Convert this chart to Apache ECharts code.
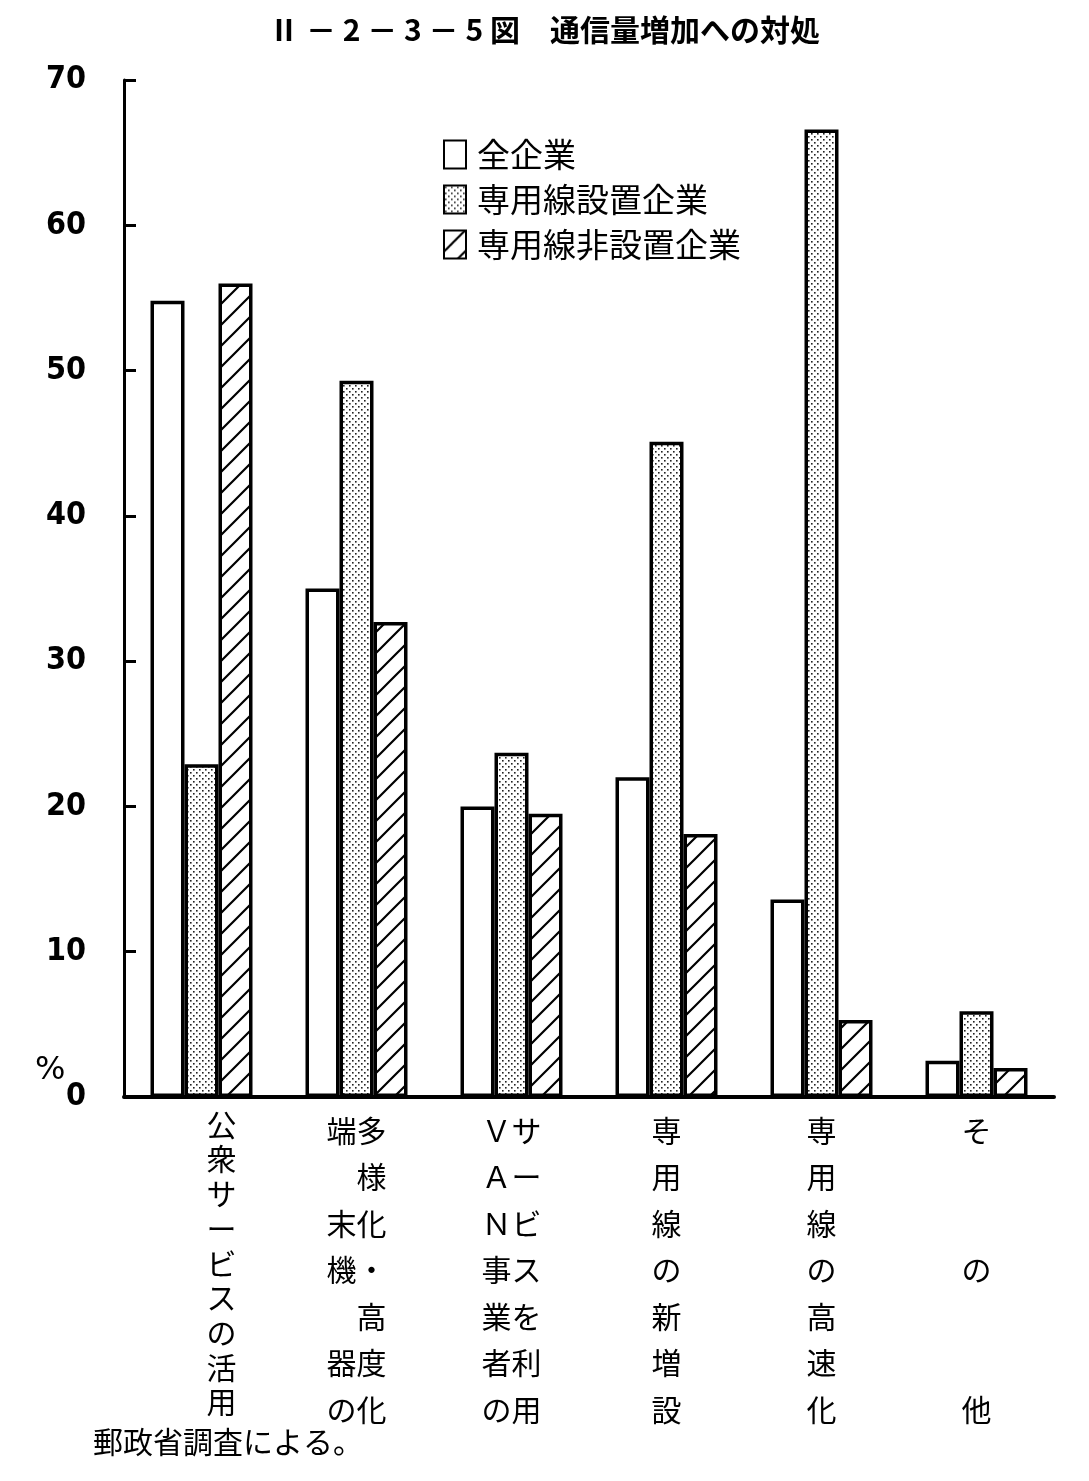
<!DOCTYPE html>
<html>
<head>
    <meta charset="utf-8">
    <title>通信量増加への対処</title>
    <script src="https://cdn.jsdelivr.net/npm/echarts@6/dist/echarts.min.js"></script>
    <style>
        html, body { margin: 0; padding: 0; background: #fff; }
        #chart1 { width: 1089px; height: 1481px; }
    </style>
</head>
<body>
<div id="chart1"></div>
<script type="text/javascript">
    // データ（図から読み取り、%）
    var categories = ['公衆サービスの活用', '端末機器の多様化・高度化', 'VAN事業者のサービスを利用', '専用線の新増設', '専用線の高速化', 'その他'];
    var seriesNames = ['全企業', '専用線設置企業', '専用線非設置企業'];
    var allCompanies = [54.8, 35.0, 20.0, 22.0, 13.6, 2.5];
    var withLine = [22.9, 49.3, 23.7, 45.1, 66.6, 5.9];
    var withoutLine = [56.0, 32.7, 19.5, 18.1, 5.3, 2.0];
    var yTicks = [0, 10, 20, 30, 40, 50, 60, 70];

    // 縦書きラベルの行（左列＋右列）
    var labelRows = [
        ['公', '衆', 'サ', 'ー', 'ビ', 'ス', 'の', '活', '用'],
        ['端多', '　様', '末化', '機・', '　高', '器度', 'の化'],
        ['Ｖサ', 'Ａー', 'Ｎビ', '事ス', '業を', '者利', 'の用'],
        ['専', '用', '線', 'の', '新', '増', '設'],
        ['専', '用', '線', 'の', '高', '速', '化'],
        ['そ', '　', '　', 'の', '　', '　', '他']
    ];

    var FONT = '"Noto Sans CJK JP", sans-serif';

    // 網点パターン
    function dotPattern() {
        var c = document.createElement('canvas');
        c.width = 6; c.height = 6;
        var ctx = c.getContext('2d');
        ctx.fillStyle = '#fff';
        ctx.fillRect(0, 0, 6, 6);
        ctx.fillStyle = '#222';
        ctx.fillRect(1, 1, 1.6, 1.6);
        ctx.fillRect(4, 4, 1.6, 1.6);
        return c;
    }

    // 斜線パターン
    function hatchPattern() {
        var s = 21;
        var c = document.createElement('canvas');
        c.width = s; c.height = s;
        var ctx = c.getContext('2d');
        ctx.fillStyle = '#fff';
        ctx.fillRect(0, 0, s, s);
        ctx.strokeStyle = '#000';
        ctx.lineWidth = 2.2;
        ctx.beginPath();
        ctx.moveTo(-2, s + 2); ctx.lineTo(s + 2, -2);
        ctx.moveTo(-2, 2); ctx.lineTo(2, -2);
        ctx.moveTo(s - 2, s + 2); ctx.lineTo(s + 2, s - 2);
        ctx.stroke();
        return c;
    }

    var myChart1 = echarts.init(document.getElementById('chart1'));

    var baseItem = {borderColor: '#000', borderWidth: 3.5};

    myChart1.setOption({
        backgroundColor: '#fff',
        animation: false,
        title: [
            {
                text: 'Ⅱ － 2 － 3 － 5 図　通信量増加への対処',
                left: 'center',
                top: 10,
                textStyle: {fontFamily: FONT, fontSize: 30, fontWeight: 'bold', color: '#000'}
            },
            {
                text: '%',
                left: 30,
                top: 1050,
                textStyle: {fontFamily: 'DejaVu Sans', fontSize: 32, fontWeight: 'normal', color: '#000'}
            },
            {
                text: '郵政省調査による。',
                left: 88,
                top: 1422,
                textStyle: {fontFamily: FONT, fontSize: 30, fontWeight: 'normal', color: '#000'}
            }
        ],
        legend: {
            orient: 'vertical',
            left: 438,
            top: 133,
            icon: 'rect',
            itemWidth: 22,
            itemHeight: 28,
            itemGap: 12,
            data: seriesNames,
            textStyle: {fontFamily: FONT, fontSize: 33, color: '#000', padding: [0, 0, 0, 6]}
        },
        grid: {
            left: 124,
            right: 35,
            top: 80,
            bottom: 384
        },
        xAxis: {
            type: 'category',
            data: categories,
            axisLine: {lineStyle: {color: '#000', width: 4}},
            axisTick: {show: false},
            axisLabel: {
                interval: 0,
                margin: 10,
                color: '#000',
                formatter: function (value, index) {
                    var st = index === 0 ? 'a' : 'b';
                    return labelRows[index].map(function (r) {
                        return '{' + st + '|' + r + '}';
                    }).join('\n');
                },
                rich: {
                    a: {fontFamily: FONT, fontSize: 30, lineHeight: 34.7, color: '#000', padding: [0, 0, 0, 40]},
                    b: {fontFamily: FONT, fontSize: 30, lineHeight: 46.5, color: '#000'}
                }
            }
        },
        yAxis: {
            type: 'value',
            min: 0,
            max: 70,
            interval: 10,
            splitLine: {show: false},
            axisLine: {show: true, lineStyle: {color: '#000', width: 3}},
            axisTick: {show: true, inside: true, length: 12, lineStyle: {color: '#000', width: 3}},
            axisLabel: {
                margin: 38,
                color: '#000',
                fontFamily: 'DejaVu Sans Condensed',
                fontWeight: 'bold',
                fontSize: 32,
                formatter: function (v) { return yTicks.indexOf(v) >= 0 ? String(v) : ''; }
            }
        },
        series: [
            {
                name: seriesNames[0],
                type: 'bar',
                barWidth: 34,
                barGap: '0%',
                data: allCompanies,
                itemStyle: Object.assign({color: '#fff'}, baseItem)
            },
            {
                name: seriesNames[1],
                type: 'bar',
                barWidth: 34,
                barGap: '0%',
                data: withLine,
                itemStyle: Object.assign({color: {image: dotPattern(), repeat: 'repeat'}}, baseItem)
            },
            {
                name: seriesNames[2],
                type: 'bar',
                barWidth: 34,
                barGap: '0%',
                data: withoutLine,
                itemStyle: Object.assign({color: {image: hatchPattern(), repeat: 'repeat'}}, baseItem)
            }
        ]
    });
</script>
</body>
</html>
